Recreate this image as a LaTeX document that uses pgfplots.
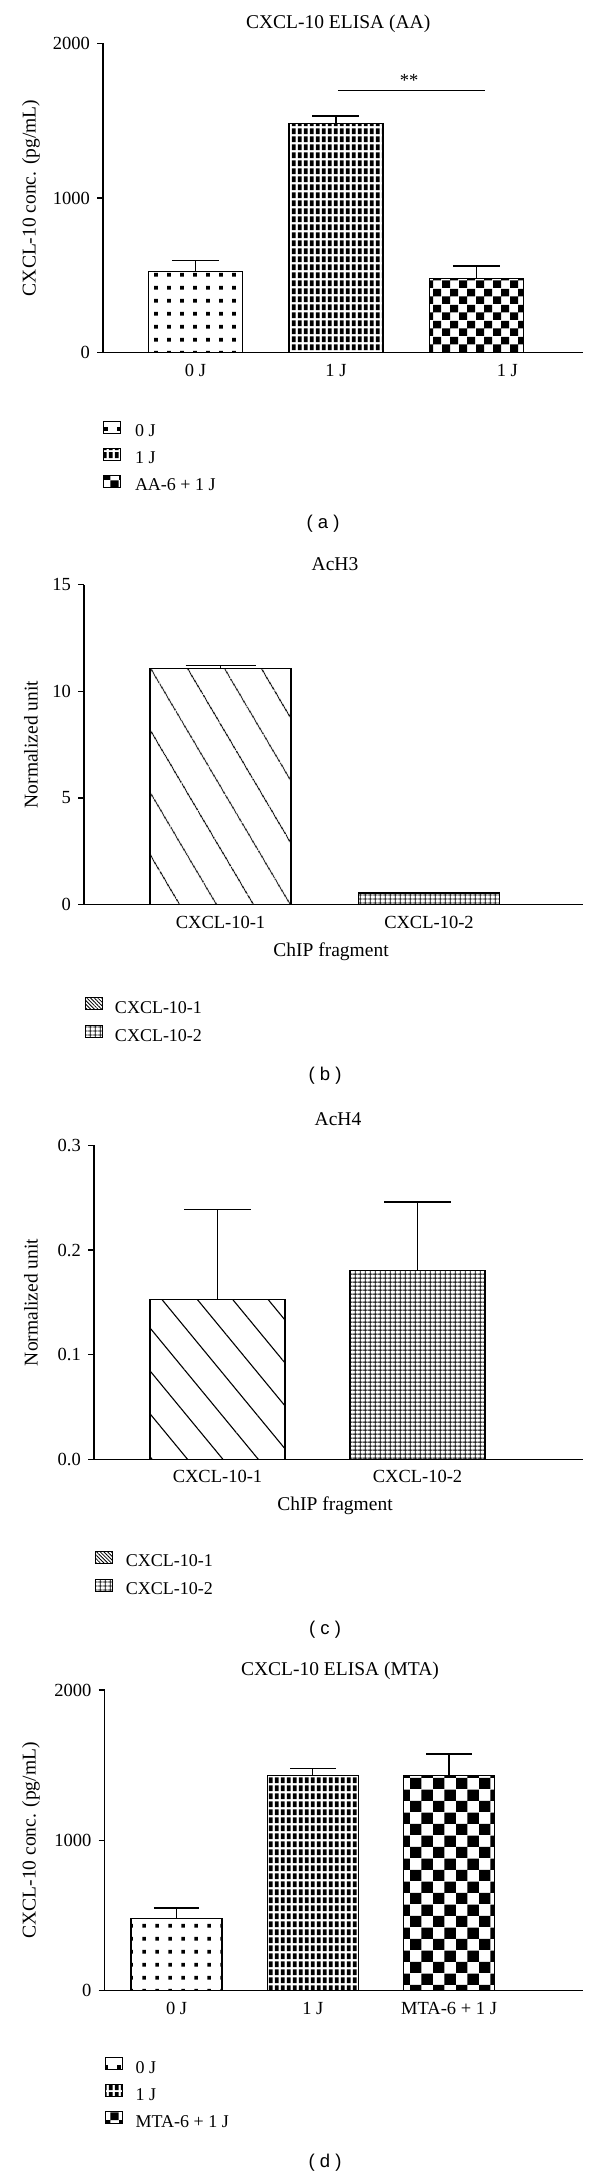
\documentclass[border=0pt]{standalone}
\usepackage{fontspec}
\setmainfont{Liberation Serif}
\newfontfamily\panelfont{Liberation Sans}
\usepackage{pgfplots}
\pgfplotsset{compat=1.18}
\usetikzlibrary{patterns,patterns.meta}

\newcommand{\tickfont}{\fontsize{18.5bp}{22bp}\selectfont}
\newcommand{\labfont}{\fontsize{19.5bp}{23bp}\selectfont}
\newcommand{\legfont}{\fontsize{18bp}{22bp}\selectfont}

% patterns (1bp = 1 output pixel)
\pgfdeclarepatternformonly{dotgrid}{\pgfpointorigin}{\pgfpoint{12.5bp}{12.8bp}}{\pgfpoint{12.5bp}{12.8bp}}{%
  \pgfpathrectangle{\pgfpoint{4.4bp}{4.5bp}}{\pgfpoint{3.7bp}{3.7bp}}\pgfusepath{fill}}
\pgfdeclarepatternformonly{densegrid}{\pgfpointorigin}{\pgfpoint{5.7bp}{7.7bp}}{\pgfpoint{5.7bp}{7.7bp}}{%
  \pgfpathrectangle{\pgfpoint{0.85bp}{0.9bp}}{\pgfpoint{4.0bp}{5.9bp}}\pgfusepath{fill}}
\pgfdeclarepatternformonly{checkerA}{\pgfpointorigin}{\pgfpoint{17bp}{16bp}}{\pgfpoint{17bp}{16bp}}{%
  \pgfpathrectangle{\pgfpoint{0bp}{0bp}}{\pgfpoint{8.5bp}{8bp}}%
  \pgfpathrectangle{\pgfpoint{8.5bp}{8bp}}{\pgfpoint{8.5bp}{8bp}}\pgfusepath{fill}}
\pgfdeclarepatternformonly{checkerD}{\pgfpointorigin}{\pgfpoint{22.8bp}{22.6bp}}{\pgfpoint{22.8bp}{22.6bp}}{%
  \pgfpathrectangle{\pgfpoint{0bp}{0bp}}{\pgfpoint{11.4bp}{11.3bp}}%
  \pgfpathrectangle{\pgfpoint{11.4bp}{11.3bp}}{\pgfpoint{11.4bp}{11.3bp}}\pgfusepath{fill}}
\pgfdeclarepatternformonly{finegrid}{\pgfpointorigin}{\pgfpoint{5.2bp}{4.4bp}}{\pgfpoint{5.2bp}{4.4bp}}{%
  \pgfsetlinewidth{1bp}%
  \pgfpathmoveto{\pgfpoint{2.6bp}{0bp}}\pgfpathlineto{\pgfpoint{2.6bp}{4.4bp}}%
  \pgfpathmoveto{\pgfpoint{0bp}{2.2bp}}\pgfpathlineto{\pgfpoint{5.2bp}{2.2bp}}%
  \pgfusepath{stroke}}

\pgfplotsset{
  panel/.style={
    scale only axis,
    anchor=south west,
    axis x line=bottom,
    axis y line=left,
    axis line style={-, line width=1.3bp, black},
    ymin=0,
    clip=false,
    tick align=outside,
    major tick length=6bp,
    xtick style={draw=none},
    ytick style={line width=1.3bp, black},
    minor tick num=0,
    tick label style={font=\tickfont, inner sep=0pt},
    /pgf/number format/assume math mode=true,
    /pgf/number format/1000 sep={},
    yticklabel style={xshift=-7bp},
    xticklabel style={yshift=-5bp},
    title style={font=\labfont, anchor=center},
    label style={font=\labfont},
    every axis y label/.style={at={(axis description cs:-0.15,0.5)}, rotate=90, anchor=center, font=\labfont},
    legend cell align=left,
    legend image code/.code={\draw[##1, line width=1bp] (0bp,-0.5bp) rectangle (17bp,11.5bp);},
    legend style={draw=none, fill=none, inner sep=0pt, outer sep=0pt, anchor=north west,
      font=\legfont, row sep=6bp, column sep=13bp,
      nodes={inner sep=0pt, text height=13bp, text depth=5bp}},
  },
  barA/.style={ybar, bar shift=0pt, draw=black, line width=1.3bp, forget plot},
}

\begin{document}
\begin{tikzpicture}[x=1bp,y=1bp]
\useasboundingbox (0,0) rectangle (600,-2176);

% ---------------- (a) ----------------
\begin{axis}[panel,
  at={(103bp,-352.7bp)}, width=480bp, height=309.4bp,
  xmin=-0.658, xmax=2.758, ymax=2000,
  ytick={0,1000,2000},
  xtick={0,1,2.22}, xticklabels={0 J,1 J,1 J},
  title={CXCL-10 ELISA (AA)},
  title style={at={(axis description cs:0.49,1.043)}},
  ylabel={CXCL-10 conc. (pg/mL)},
  every axis y label/.append style={at={(axis description cs:-0.150,0.5)}},
  legend style={at={(axis description cs:0,-0.2207)}, row sep=6bp, column sep=14bp},
]
\addplot[barA, bar width=94bp, pattern=dotgrid,
  error bars/.cd, y dir=plus, y explicit, error mark=|,
  error bar style={line width=1.3bp, black},
  error mark options={line width=1.3bp, black, mark size=23.5bp}]
  coordinates {(0,524) +- (0,71)};
\addplot[barA, bar width=94bp, pattern=densegrid,
  error bars/.cd, y dir=plus, y explicit, error mark=|,
  error bar style={line width=1.3bp, black},
  error mark options={line width=1.3bp, black, mark size=23.5bp}]
  coordinates {(1,1480) +- (0,50)};
\addplot[barA, bar width=94bp, pattern=checkerA,
  error bars/.cd, y dir=plus, y explicit, error mark=|,
  error bar style={line width=1.3bp, black},
  error mark options={line width=1.3bp, black, mark size=23.5bp}]
  coordinates {(2,481) +- (0,79)};
\addlegendimage{draw=black, pattern=dotgrid}
\addlegendentry{0 J}
\addlegendimage{draw=black, pattern=densegrid}
\addlegendentry{1 J}
\addlegendimage{draw=black, pattern=checkerA}
\addlegendentry{AA-6 + 1 J}
\draw[line width=1.3bp] (axis cs:1.014,1696) -- (axis cs:2.06,1696);
\node[font=\tickfont, anchor=center] at (axis cs:1.52,1760) {**};
\end{axis}
\node[font=\panelfont\fontsize{18.5bp}{22bp}\selectfont] at (323,-524) {( a )};

% ---------------- (b) ----------------
\begin{axis}[panel,
  at={(84bp,-904.6bp)}, width=499bp, height=320bp,
  xmin=-0.655, xmax=1.739, ymax=15,
  ytick={0,5,10,15},
  xtick={0,1}, xticklabels={CXCL-10-1,CXCL-10-2},
  title={AcH3},
  title style={at={(axis description cs:0.503,1.0456)}},
  xlabel={ChIP fragment},
  xlabel style={at={(axis description cs:0.495,-0.148)}, anchor=center},
  ylabel={Normalized unit},
  every axis y label/.append style={at={(axis description cs:-0.1062,0.5)}},
  legend style={at={(axis description cs:0.002,-0.289)}, row sep=7bp, column sep=12bp},
]
\addplot[barA, bar width=141bp, pattern={Lines[angle=-59.4, distance=32.1bp, line width=1.1bp]},
  error bars/.cd, y dir=plus, y explicit, error mark=|,
  error bar style={line width=1.3bp, black},
  error mark options={line width=1.3bp, black, mark size=35bp}]
  coordinates {(0,11.07) +- (0,0.13)};
\addplot[barA, bar width=141bp, pattern=finegrid,
  error bars/.cd, y dir=plus, y explicit, error mark=|,
  error bar style={line width=1.3bp, black},
  error mark options={line width=1.3bp, black, mark size=35bp}]
  coordinates {(1,0.54) +- (0,0.03)};
\addlegendimage{draw=black, pattern={Lines[angle=-45, distance=2.6bp, line width=0.8bp]}}
\addlegendentry{CXCL-10-1}
\addlegendimage{draw=black, pattern=finegrid}
\addlegendentry{CXCL-10-2}
\end{axis}
\node[font=\panelfont\fontsize{18.5bp}{22bp}\selectfont] at (325,-1076) {( b )};

% ---------------- (c) ----------------
\begin{axis}[panel,
  at={(94bp,-1459.3bp)}, width=489bp, height=313.9bp,
  xmin=-0.6175, xmax=1.8275, ymax=0.3,
  ytick={0,0.1,0.2,0.3},
  yticklabel style={/pgf/number format/.cd, fixed, fixed zerofill, precision=1},
  xtick={0,1}, xticklabels={CXCL-10-1,CXCL-10-2},
  title={AcH4},
  title style={at={(axis description cs:0.499,1.065)}},
  xlabel={ChIP fragment},
  xlabel style={at={(axis description cs:0.493,-0.149)}, anchor=center},
  ylabel={Normalized unit},
  every axis y label/.append style={at={(axis description cs:-0.1288,0.5)}},
  legend style={at={(axis description cs:0.002,-0.292)}, row sep=7bp, column sep=13bp},
]
\addplot[barA, bar width=135bp, pattern={Lines[angle=-50.5, distance=27.3bp, line width=1.1bp]},
  error bars/.cd, y dir=plus, y explicit, error mark=|,
  error bar style={line width=1.3bp, black},
  error mark options={line width=1.3bp, black, mark size=33.5bp}]
  coordinates {(0,0.153) +- (0,0.086)};
\addplot[barA, bar width=135bp, pattern=finegrid,
  error bars/.cd, y dir=plus, y explicit, error mark=|,
  error bar style={line width=1.3bp, black},
  error mark options={line width=1.3bp, black, mark size=33.5bp}]
  coordinates {(1,0.1805) +- (0,0.0655)};
\addlegendimage{draw=black, pattern={Lines[angle=-45, distance=2.6bp, line width=0.8bp]}}
\addlegendentry{CXCL-10-1}
\addlegendimage{draw=black, pattern=finegrid}
\addlegendentry{CXCL-10-2}
\end{axis}
\node[font=\panelfont\fontsize{18.5bp}{22bp}\selectfont] at (325,-1630) {( c )};

% ---------------- (d) ----------------
\begin{axis}[panel,
  at={(104.6bp,-1990.6bp)}, width=478.4bp, height=300.6bp,
  xmin=-0.528, xmax=2.983, ymax=2000,
  ytick={0,1000,2000},
  xtick={0,1,2}, xticklabels={0 J,1 J,MTA-6 + 1 J},
  title={CXCL-10 ELISA (MTA)},
  title style={at={(axis description cs:0.492,1.043)}},
  ylabel={CXCL-10 conc. (pg/mL)},
  every axis y label/.append style={at={(axis description cs:-0.1538,0.5)}},
  legend style={at={(axis description cs:0,-0.221)}, row sep=6bp, column sep=13bp},
]
\addplot[barA, bar width=91bp, pattern=dotgrid,
  error bars/.cd, y dir=plus, y explicit, error mark=|,
  error bar style={line width=1.3bp, black},
  error mark options={line width=1.3bp, black, mark size=22.75bp}]
  coordinates {(0,479) +- (0,71)};
\addplot[barA, bar width=91bp, pattern=densegrid,
  error bars/.cd, y dir=plus, y explicit, error mark=|,
  error bar style={line width=1.3bp, black},
  error mark options={line width=1.3bp, black, mark size=22.75bp}]
  coordinates {(1,1432) +- (0,47)};
\addplot[barA, bar width=91bp, pattern=checkerD,
  error bars/.cd, y dir=plus, y explicit, error mark=|,
  error bar style={line width=1.3bp, black},
  error mark options={line width=1.3bp, black, mark size=22.75bp}]
  coordinates {(2,1432) +- (0,143)};
\addlegendimage{draw=black, pattern=dotgrid}
\addlegendentry{0 J}
\addlegendimage{draw=black, pattern=densegrid}
\addlegendentry{1 J}
\addlegendimage{draw=black, pattern=checkerA}
\addlegendentry{MTA-6 + 1 J}
\end{axis}
\node[font=\panelfont\fontsize{18.5bp}{22bp}\selectfont] at (325,-2163) {( d )};
\end{tikzpicture}
\end{document}
